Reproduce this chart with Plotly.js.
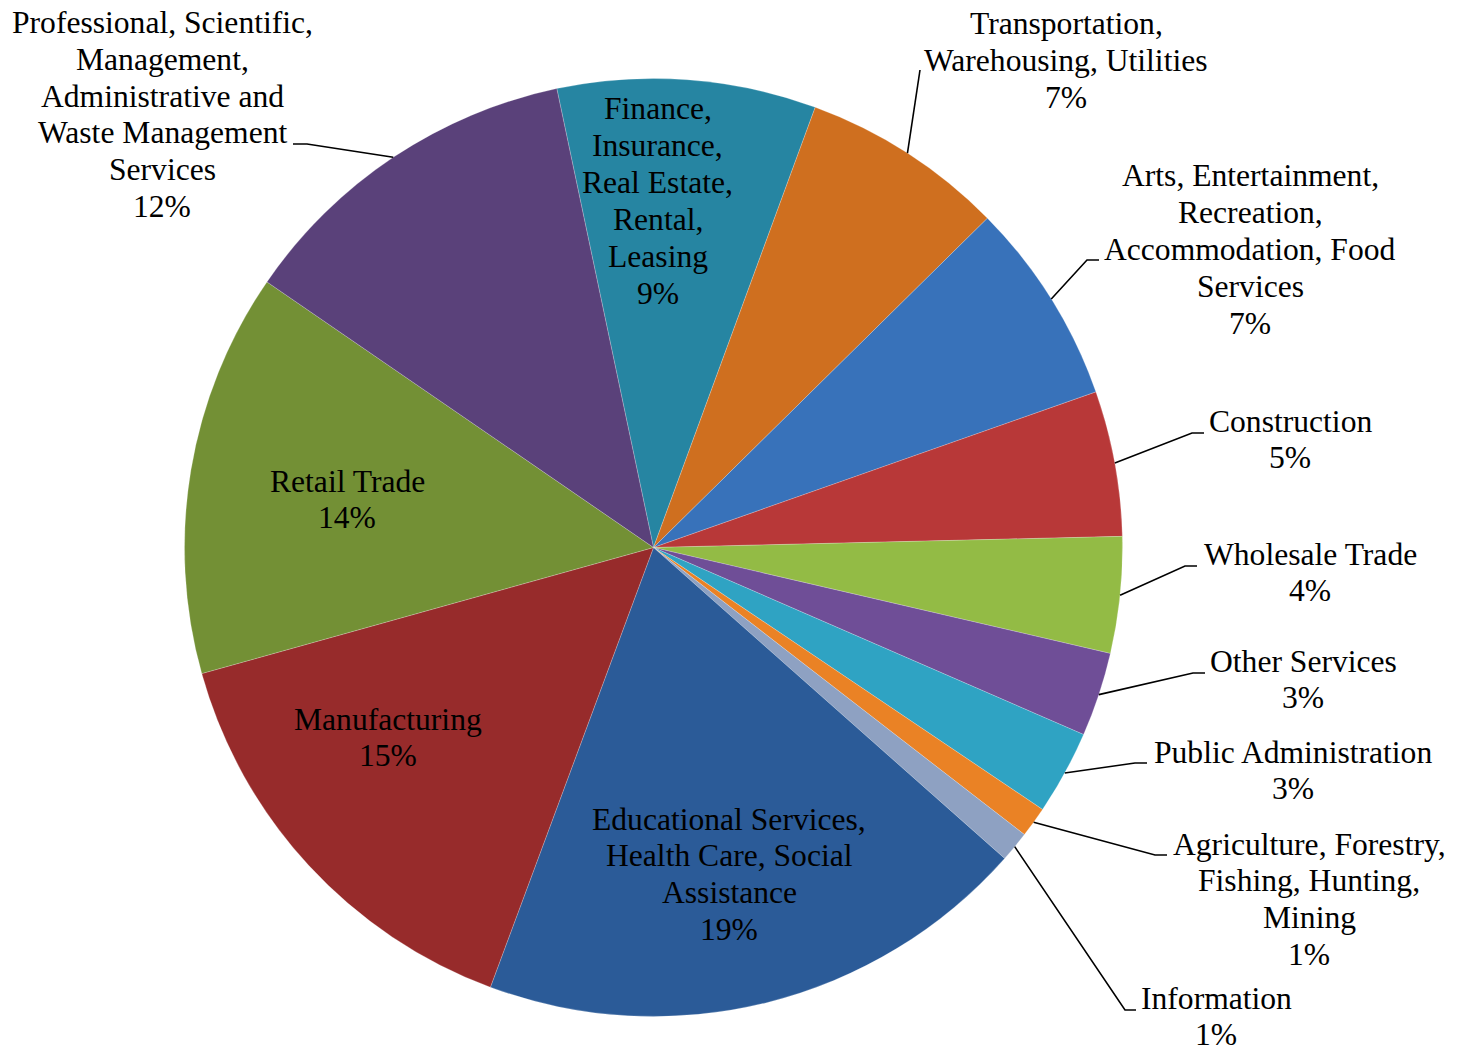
<!DOCTYPE html>
<html>
<head>
<meta charset="utf-8">
<script src="https://cdn.plot.ly/plotly-3.0.1.min.js"></script>
<style>
  html, body { margin: 0; padding: 0; background: #ffffff; }
  #chart { width: 1466px; height: 1053px; }
</style>
</head>
<body>
<div id="chart"></div>
<script>
// ---------------- data ----------------
const categories = [
  "Finance, Insurance, Real Estate, Rental, Leasing",
  "Transportation, Warehousing, Utilities",
  "Arts, Entertainment, Recreation, Accommodation, Food Services",
  "Construction",
  "Wholesale Trade",
  "Other Services",
  "Public Administration",
  "Agriculture, Forestry, Fishing, Hunting, Mining",
  "Information",
  "Educational Services, Health Care, Social Assistance",
  "Manufacturing",
  "Retail Trade",
  "Professional, Scientific, Management, Administrative and Waste Management Services"
];
const values = [8.9, 7.0, 7.0, 5.0, 4.0, 2.9, 2.9, 1.05, 1.05, 19.1, 15.0, 13.9, 12.1];
const labelLines = [
  ["Finance,", "Insurance,", "Real Estate,", "Rental,", "Leasing"],
  ["Transportation,", "Warehousing, Utilities"],
  ["Arts, Entertainment,", "Recreation,", "Accommodation, Food", "Services"],
  ["Construction"],
  ["Wholesale Trade"],
  ["Other Services"],
  ["Public Administration"],
  ["Agriculture, Forestry,", "Fishing, Hunting,", "Mining"],
  ["Information"],
  ["Educational Services,", "Health Care, Social", "Assistance"],
  ["Manufacturing"],
  ["Retail Trade"],
  ["Professional, Scientific,", "Management,", "Administrative and", "Waste Management", "Services"]
];
const colors = [
  "#2685A2", "#CF6F1F", "#3872BA", "#B83838", "#93BB45", "#6F4E97", "#2FA3C3",
  "#EA8225", "#8EA1C2", "#2B5B98", "#972B2B", "#739035", "#5A417A"
];

// ---------------- layout settings (pixels in the 1466x1053 page) ----------------
const W = 1466, H = 1053;
const CX = 653.5, CY = 547.5, R = 469;
const ROTATION = -11.9;
const FONT_SIZE = 31.6;
const LINE_STEP = 36.8;
// label block: x centre, middle of first line, leader [text end, elbow] (null = inside label)
const labelPlacement = [
  { x: 657.5, y: 109, leader: null },
  { x: 1066, y: 24, leader: [[920, 70], [920, 70]] },
  { x: 1250, y: 176, leader: [[1099, 260], [1087, 260]] },
  { x: 1290, y: 421, leader: [[1204, 433], [1192, 433]] },
  { x: 1310, y: 554, leader: [[1197, 566], [1185, 566]] },
  { x: 1303, y: 661, leader: [[1205, 673], [1193, 673]] },
  { x: 1293, y: 752, leader: [[1147, 763], [1135, 763]] },
  { x: 1309, y: 844, leader: [[1167, 855], [1155, 855]] },
  { x: 1216, y: 998, leader: [[1136, 1010], [1125, 1010]] },
  { x: 729, y: 819, leader: null },
  { x: 387.5, y: 719, leader: null },
  { x: 347, y: 481, leader: null },
  { x: 162, y: 22.5, leader: [[293, 144], [307, 144]] }
];

// ---------------- build ----------------
const total = values.reduce((a, b) => a + b, 0);
const px = x => x / W;
const py = y => 1 - y / H;

const annotations = [];
const shapes = [];
let cum = 0;
values.forEach((v, i) => {
  const midDeg = ROTATION + (cum + v / 2) / total * 360;
  cum += v;
  const a = midDeg * Math.PI / 180;
  const edgeX = CX + R * Math.sin(a);
  const edgeY = CY - R * Math.cos(a);
  const pct = Math.round(v / total * 100) + "%";
  const lines = labelLines[i].concat([pct]);
  const pl = labelPlacement[i];
  lines.forEach((t, k) => {
    annotations.push({
      text: t, showarrow: false, xref: "paper", yref: "paper",
      x: px(pl.x), y: py(pl.y + k * LINE_STEP),
      xanchor: "center", yanchor: "middle", borderpad: 0,
      font: { family: "Liberation Serif, Times New Roman, serif", size: FONT_SIZE, color: "#000000" }
    });
  });
  if (pl.leader) {
    const p0 = pl.leader[0], p1 = pl.leader[1];
    shapes.push({
      type: "path", xref: "paper", yref: "paper",
      path: "M " + px(p0[0]) + "," + py(p0[1]) + " L " + px(p1[0]) + "," + py(p1[1]) +
            " L " + px(edgeX) + "," + py(edgeY),
      line: { color: "#000000", width: 1.6 }
    });
  }
});

const trace = {
  type: "pie",
  labels: categories,
  values: values,
  sort: false,
  direction: "clockwise",
  rotation: ROTATION,
  textinfo: "none",
  hoverinfo: "label+percent",
  marker: { colors: colors, line: { color: "rgba(255,255,255,0.35)", width: 0.6 } },
  domain: { x: [(CX - R) / W, (CX + R) / W], y: [(H - CY - R) / H, (H - CY + R) / H] },
  showlegend: false
};

const layout = {
  width: W, height: H,
  margin: { l: 0, r: 0, t: 0, b: 0 },
  paper_bgcolor: "#ffffff",
  plot_bgcolor: "#ffffff",
  showlegend: false,
  annotations: annotations,
  shapes: shapes
};

Plotly.newPlot("chart", [trace], layout, { displayModeBar: false });
</script>
</body>
</html>
